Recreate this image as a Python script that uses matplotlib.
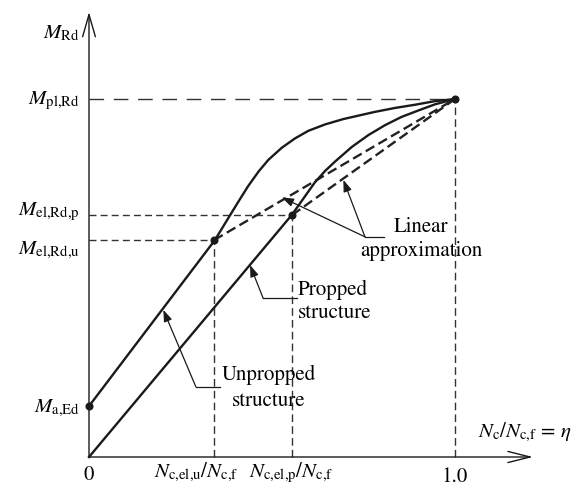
import numpy as np
import matplotlib
matplotlib.use("Agg")
import matplotlib.pyplot as plt

plt.rcParams['font.family'] = 'STIXGeneral'
plt.rcParams['mathtext.fontset'] = 'stix'

# Values (x = N_c/N_c,f, y = M_Rd / M_pl,Rd)
eta_el_u = 0.342
eta_el_p = 0.555
m_a_ed = 0.142
m_el_u = 0.606
m_el_p = 0.676
m_pl = 1.0

# unpropped structure: elastic line then plastic curve
unprop_x = [0.0, 0.344, 0.381, 0.408, 0.435, 0.463, 0.490, 0.527, 0.563, 0.599,
            0.645, 0.695, 0.781, 0.836, 0.891, 0.945, 1.0]
unprop_y = [0.142, 0.606, 0.668, 0.713, 0.757, 0.797, 0.830, 0.864, 0.890, 0.911,
            0.929, 0.944, 0.964, 0.975, 0.984, 0.994, 1.0]

# propped structure
prop_x = [0.0, 0.554, 0.590, 0.617, 0.645, 0.672, 0.718, 0.763, 0.809, 0.854, 0.900, 0.945, 1.0]
prop_y = [0.0, 0.676, 0.728, 0.767, 0.799, 0.825, 0.866, 0.899, 0.927, 0.950, 0.968, 0.985, 1.0]

dot_x = [0.0, eta_el_u, eta_el_p, 1.0]
dot_y = [m_a_ed, m_el_u, m_el_p, m_pl]

fsize = 15

fig = plt.figure(figsize=(5.84, 4.95), dpi=100)
ax = fig.add_axes([0, 0, 1, 1])
ax.set_xlim(-89 / 366, 495 / 366)
ax.set_ylim(-38 / 358, 457 / 358)
ax.axis('off')

# guide lines
gkw = dict(color='#333333', lw=1.0)
ax.plot([0, 1.0], [m_pl, m_pl], dashes=(10.5, 7), **gkw)
ax.plot([0, eta_el_p], [m_el_p, m_el_p], dashes=(5, 3), **gkw)
ax.plot([0, eta_el_u], [m_el_u, m_el_u], dashes=(5, 3), **gkw)
ax.plot([eta_el_u, eta_el_u], [0, m_el_u], dashes=(5.5, 3), **gkw)
ax.plot([eta_el_p, eta_el_p], [0, m_el_p], dashes=(5.5, 3), **gkw)
ax.plot([1.0, 1.0], [0, m_pl], dashes=(5.5, 3), **gkw)

# linear approximations
ax.plot([eta_el_u, 1.0], [m_el_u, m_pl], color='#222222', lw=1.7, dashes=(4.2, 2.0))
ax.plot([eta_el_p, 1.0], [m_el_p, m_pl], color='#222222', lw=1.7, dashes=(4.2, 2.0))

# resistance curves
ax.plot(unprop_x, unprop_y, color='#1a1a1a', lw=1.7, solid_joinstyle='round')
ax.plot(prop_x, prop_y, color='#1a1a1a', lw=1.7, solid_joinstyle='round')
ax.plot(dot_x, dot_y, 'o', color='#1a1a1a', ms=4.8)

# axes with open arrows
ax.annotate('', xy=(0, 445 / 358), xytext=(0, 0),
            arrowprops=dict(arrowstyle='->,head_length=0.8,head_width=0.23',
                            mutation_scale=20, lw=1.0, color='#1a1a1a', shrinkA=0, shrinkB=0))
ax.annotate('', xy=(444 / 366, 0), xytext=(0, 0),
            arrowprops=dict(arrowstyle='->,head_length=0.8,head_width=0.2',
                            mutation_scale=20, lw=1.0, color='#1a1a1a', shrinkA=0, shrinkB=0))

# y labels
lx = -0.0246
ax.text(lx, 1.170, r'$M_{\mathrm{Rd}}$', ha='right', va='baseline', fontsize=fsize)
ax.text(lx, 0.986, r'$M_{\mathrm{pl{,}Rd}}$', ha='right', va='baseline', fontsize=fsize)
ax.text(lx, 0.675, r'$M_{\mathrm{el{,}Rd{,}p}}$', ha='right', va='baseline', fontsize=fsize)
ax.text(lx, 0.567, r'$M_{\mathrm{el{,}Rd{,}u}}$', ha='right', va='baseline', fontsize=fsize)
ax.text(lx, 0.126, r'$M_{\mathrm{a{,}Ed}}$', ha='right', va='baseline', fontsize=fsize)

# x labels
ax.text(0, -0.064, '0', ha='center', va='baseline', fontsize=fsize)
ax.text(0.292, -0.056, r'$N_{\mathrm{c{,}el{,}u}}/N_{\mathrm{c{,}f}}$', ha='center', va='baseline', fontsize=fsize)
ax.text(0.552, -0.056, r'$N_{\mathrm{c{,}el{,}p}}/N_{\mathrm{c{,}f}}$', ha='center', va='baseline', fontsize=fsize)
ax.text(1.0, -0.070, '1.0', ha='center', va='baseline', fontsize=fsize)
ax.text(1.063, 0.056, r'$N_{\mathrm{c}}/N_{\mathrm{c{,}f}}$ = $\eta$', ha='left', va='baseline', fontsize=fsize)

# leader arrows
akw = dict(arrowstyle='-|>,head_length=0.5,head_width=0.18', mutation_scale=14,
           lw=0.9, color='#1a1a1a', shrinkA=0, shrinkB=0)
lkw = dict(color='#1a1a1a', lw=0.9)

# linear approximation
ax.plot([0.754, 0.806], [0.615, 0.615], **lkw)
ax.annotate('', xy=(0.527, 0.725), xytext=(0.754, 0.615), arrowprops=akw)
ax.annotate('', xy=(0.695, 0.774), xytext=(0.754, 0.615), arrowprops=akw)
ax.text(0.907, 0.629, 'Linear', ha='center', va='baseline', fontsize=fsize)
ax.text(0.907, 0.561, 'approximation', ha='center', va='baseline', fontsize=fsize)

# propped structure
ax.plot([0.476, 0.567], [0.443, 0.443], **lkw)
ax.annotate('', xy=(0.440, 0.536), xytext=(0.476, 0.443), arrowprops=akw)
ax.text(0.571, 0.452, 'Propped', ha='left', va='baseline', fontsize=fsize)
ax.text(0.571, 0.388, 'structure', ha='left', va='baseline', fontsize=fsize)

# unpropped structure
ax.plot([0.292, 0.358], [0.196, 0.196], **lkw)
ax.annotate('', xy=(0.203, 0.411), xytext=(0.292, 0.196), arrowprops=akw)
ax.text(0.492, 0.215, 'Unpropped', ha='center', va='baseline', fontsize=fsize)
ax.text(0.492, 0.142, 'structure', ha='center', va='baseline', fontsize=fsize)

fig.savefig('out.png', dpi=100, facecolor='white')
